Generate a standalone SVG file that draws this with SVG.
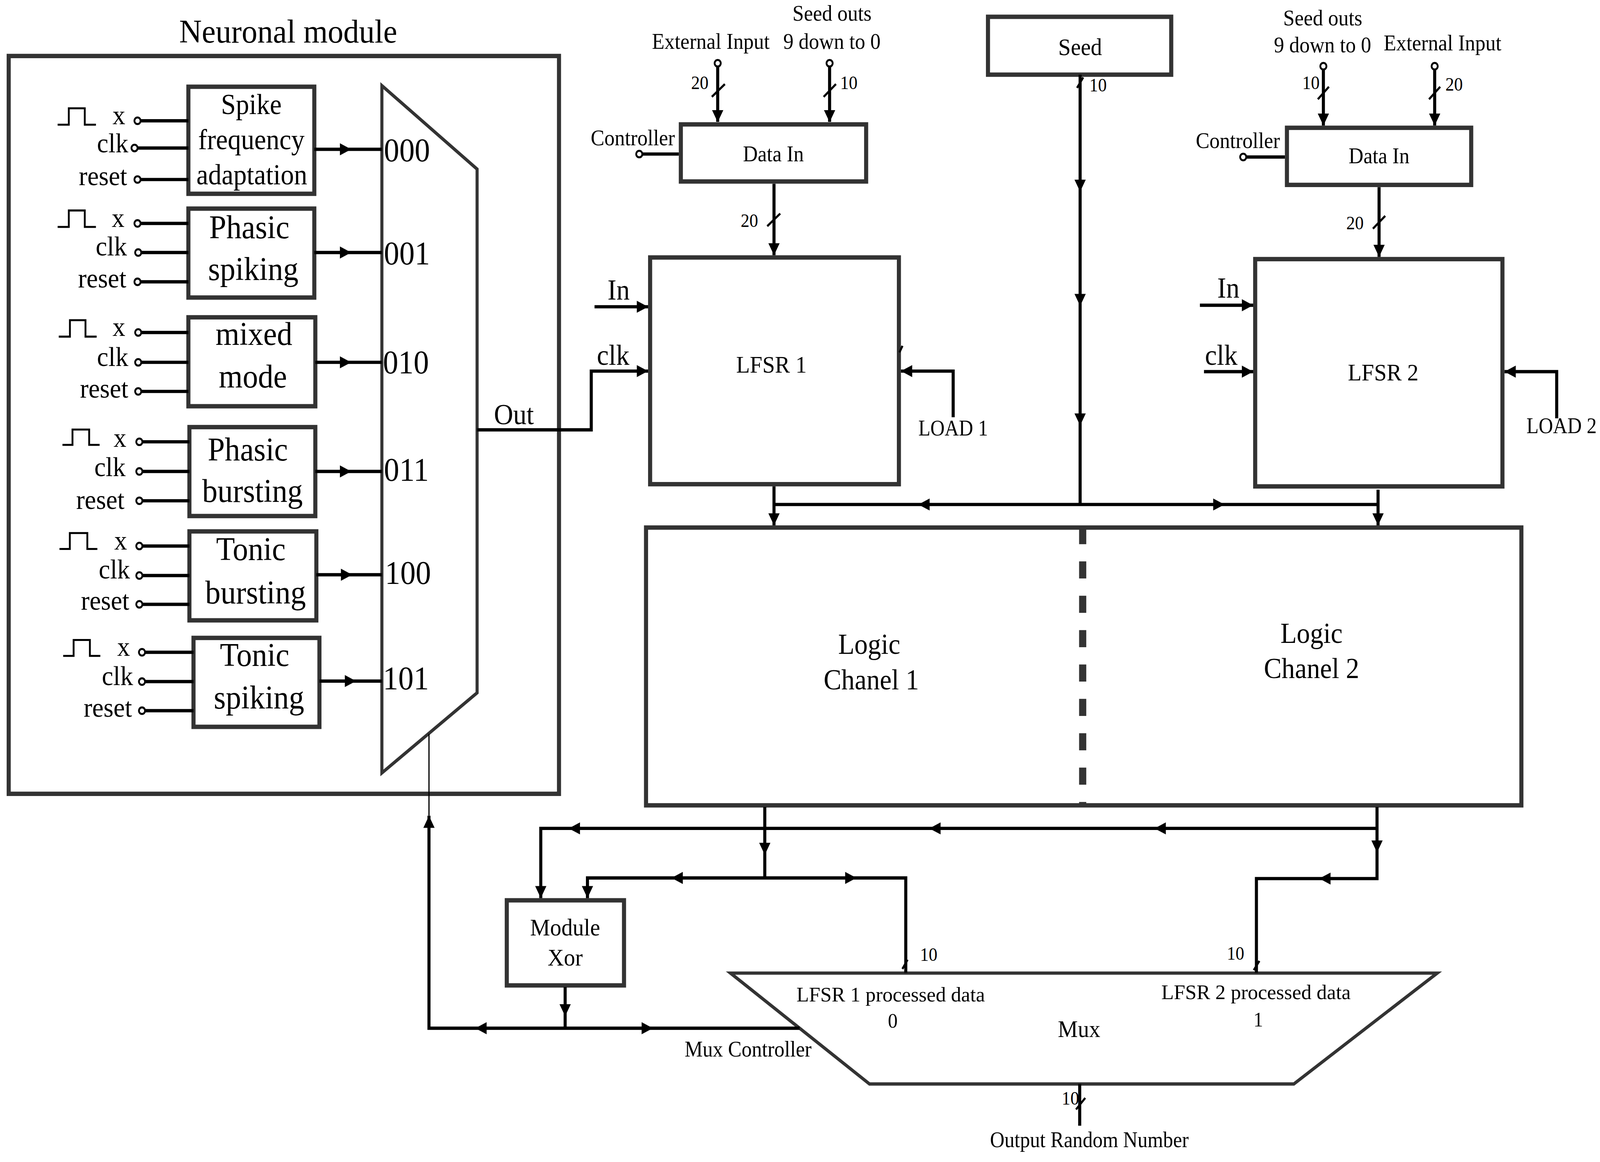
<svg xmlns="http://www.w3.org/2000/svg" width="4393" height="2975" viewBox="0 0 4393 2975" preserveAspectRatio="none">
<defs>
<style>
:root{width:100vw;height:100vh;display:block}
.box{fill:#fff;stroke:#333;stroke-width:4}
.frame{fill:none;stroke:#333;stroke-width:4}
.shape{fill:#fff;stroke:#333;stroke-width:3}
.w{fill:none;stroke:#000;stroke-width:3}
.wt{fill:none;stroke:#000;stroke-width:1.2}
.sl{fill:none;stroke:#000;stroke-width:2}
.pulse{fill:none;stroke:#000;stroke-width:1.8}
.pin{fill:#fff;stroke:#000;stroke-width:1.8}
.dash{fill:none;stroke:#333;stroke-width:7;stroke-dasharray:15.6 15.7}
text{font-family:'Liberation Serif','Times New Roman',serif;fill:#000}
.f30{font-size:30px}
.f26{font-size:26px}
.f25{font-size:25px}
.f22{font-size:22px}
.f20{font-size:20px}
.f19{font-size:19px}
.f17{font-size:17px}
.m{text-anchor:middle}
.e{text-anchor:end}
</style>
<path id="ah" d="M0,0 L-11,-5.5 L-11,5.5 Z" fill="#000"/>
</defs>
<rect width="4393" height="2975" fill="#fff"/>
<g transform="scale(2.811)">

<g id="neuronal-module">
<rect class="frame" x="8.5" y="51" width="537.5" height="672"/>
<text class="f30" x="175" y="38.7" textLength="213" lengthAdjust="spacingAndGlyphs">Neuronal module</text>
</g>

<g id="block-sfa">
<rect class="box" x="184" y="79" width="123" height="97.5"/>
<text class="f26 m" x="245.5" y="104">Spike</text>
<text class="f26 m" x="245.5" y="136">frequency</text>
<text class="f26 m" x="246" y="168">adaptation</text>
<polyline class="pulse" points="56.3,113.6 67.2,113.6 67.2,98.6 82.8,98.6 82.8,113.6 93.7,113.6"/>
<text class="f25 e" x="122.4" y="113">x</text>
<text class="f25 e" x="125.3" y="138.6">clk</text>
<text class="f25 e" x="124.2" y="168.5">reset</text>
<line class="w" x1="137" y1="110" x2="184" y2="110"/>
<line class="w" x1="134" y1="134.8" x2="184" y2="134.8"/>
<line class="w" x1="137" y1="163.5" x2="184" y2="163.5"/>
<circle class="pin" cx="134.3" cy="110" r="3"/>
<circle class="pin" cx="131.4" cy="134.8" r="3"/>
<circle class="pin" cx="134.3" cy="163.5" r="3"/>
</g>

<g id="block-phasic-spiking">
<rect class="box" x="184" y="190" width="123" height="81"/>
<text class="f30 m" x="243.5" y="217">Phasic</text>
<text class="f30 m" x="247.4" y="255">spiking</text>
<polyline class="pulse" points="56.3,206.7 67.2,206.7 67.2,191.7 82.8,191.7 82.8,206.7 93.7,206.7"/>
<text class="f25 e" x="121.6" y="206.7">x</text>
<text class="f25 e" x="124" y="232.7">clk</text>
<text class="f25 e" x="123.4" y="262">reset</text>
<line class="w" x1="137" y1="203.5" x2="184" y2="203.5"/>
<line class="w" x1="137.7" y1="230" x2="184" y2="230"/>
<line class="w" x1="137" y1="256.7" x2="184" y2="256.7"/>
<circle class="pin" cx="134.3" cy="203.5" r="3"/>
<circle class="pin" cx="135" cy="230" r="3"/>
<circle class="pin" cx="134.3" cy="256.7" r="3"/>
</g>

<g id="block-mixed-mode">
<rect class="box" x="184" y="289" width="124" height="81"/>
<text class="f30 m" x="248" y="314">mixed</text>
<text class="f30 m" x="247" y="353">mode</text>
<polyline class="pulse" points="57.4,306.6 68.3,306.6 68.3,291.6 83.5,291.6 83.5,306.6 94.4,306.6"/>
<text class="f25 e" x="122.4" y="306">x</text>
<text class="f25 e" x="125.3" y="333.3">clk</text>
<text class="f25 e" x="125.3" y="362">reset</text>
<line class="w" x1="137.7" y1="302.8" x2="184" y2="302.8"/>
<line class="w" x1="137.7" y1="330" x2="184" y2="330"/>
<line class="w" x1="137.7" y1="356.5" x2="184" y2="356.5"/>
<circle class="pin" cx="135" cy="302.8" r="3"/>
<circle class="pin" cx="135" cy="330" r="3"/>
<circle class="pin" cx="135" cy="356.5" r="3"/>
</g>

<g id="block-phasic-bursting">
<rect class="box" x="185" y="389" width="123" height="81"/>
<text class="f30 m" x="242" y="419.6">Phasic</text>
<text class="f30 m" x="246.6" y="457">bursting</text>
<polyline class="pulse" points="61,405.2 70.8,405.2 70.8,391.2 87.1,391.2 87.1,405.2 97.3,405.2"/>
<text class="f25 e" x="123.4" y="407">x</text>
<text class="f25 e" x="122.7" y="433.5">clk</text>
<text class="f25 e" x="121.6" y="463.6">reset</text>
<line class="w" x1="138.8" y1="402.4" x2="185" y2="402.4"/>
<line class="w" x1="138.8" y1="429.4" x2="185" y2="429.4"/>
<line class="w" x1="138.8" y1="456.1" x2="185" y2="456.1"/>
<circle class="pin" cx="136.1" cy="402.4" r="3"/>
<circle class="pin" cx="136.1" cy="429.4" r="3"/>
<circle class="pin" cx="136.1" cy="456.1" r="3"/>
</g>

<g id="block-tonic-bursting">
<rect class="box" x="185" y="484" width="124" height="81"/>
<text class="f30 m" x="245" y="510">Tonic</text>
<text class="f30 m" x="249.6" y="549.5">bursting</text>
<polyline class="pulse" points="58.1,500 68.2,500 68.2,485.5 85.3,485.5 85.3,500 95.1,500"/>
<text class="f25 e" x="124.1" y="500.5">x</text>
<text class="f25 e" x="127" y="526.7">clk</text>
<text class="f25 e" x="126.3" y="555.4">reset</text>
<line class="w" x1="138.8" y1="497.3" x2="185" y2="497.3"/>
<line class="w" x1="138.8" y1="524.2" x2="185" y2="524.2"/>
<line class="w" x1="138.8" y1="550.4" x2="185" y2="550.4"/>
<circle class="pin" cx="136.1" cy="497.3" r="3"/>
<circle class="pin" cx="136.1" cy="524.2" r="3"/>
<circle class="pin" cx="136.1" cy="550.4" r="3"/>
</g>

<g id="block-tonic-spiking">
<rect class="box" x="189" y="581" width="123" height="81"/>
<text class="f30 m" x="248.7" y="606.7">Tonic</text>
<text class="f30 m" x="253" y="645.5">spiking</text>
<polyline class="pulse" points="61.7,597.4 71.9,597.4 71.9,582.9 87.8,582.9 87.8,597.4 98,597.4"/>
<text class="f25 e" x="127" y="597.4">x</text>
<text class="f25 e" x="130" y="624">clk</text>
<text class="f25 e" x="128.9" y="652.8">reset</text>
<line class="w" x1="141.4" y1="594.1" x2="189" y2="594.1"/>
<line class="w" x1="141.4" y1="620.8" x2="189" y2="620.8"/>
<line class="w" x1="141.4" y1="647.3" x2="189" y2="647.3"/>
<circle class="pin" cx="138.7" cy="594.1" r="3"/>
<circle class="pin" cx="138.7" cy="620.8" r="3"/>
<circle class="pin" cx="138.7" cy="647.3" r="3"/>
</g>

<g id="neuron-mux">
<polygon class="shape" points="373,78 466,154 466,631 373,704"/>
<text class="f30" x="375" y="146.8">000</text>
<text class="f30" x="375" y="241">001</text>
<text class="f30" x="374" y="340">010</text>
<text class="f30" x="375" y="438">011</text>
<text class="f30" x="376" y="531.7">100</text>
<text class="f30" x="374" y="627.8">101</text>
<text class="f26" x="482.5" y="386.5">Out</text>
</g>

<g id="data-in-1">
<rect class="box" x="665" y="113.3" width="181" height="52"/>
<text class="f20 m" x="755.4" y="147">Data In</text>
<text class="f20" x="577" y="132.3">Controller</text>
<text class="f20 m" x="694.3" y="44.4">External Input</text>
<text class="f20 m" x="812.7" y="19">Seed outs</text>
<text class="f20 m" x="812.6" y="44.4">9 down to 0</text>
</g>

<g id="lfsr-1">
<rect class="box" x="635" y="234.5" width="243" height="206.5"/>
<text class="f22 m" x="753.5" y="339.4">LFSR 1</text>
<text class="f26" x="593.4" y="272.7">In</text>
<text class="f26" x="583" y="332.4">clk</text>
<text class="f20" x="897" y="396.6" textLength="68" lengthAdjust="spacingAndGlyphs">LOAD 1</text>
</g>

<g id="seed">
<rect class="box" x="965" y="15.3" width="179" height="52.7"/>
<text class="f22 m" x="1055" y="50">Seed</text>
</g>

<g id="data-in-2">
<rect class="box" x="1257" y="116.4" width="180" height="52"/>
<text class="f20 m" x="1347" y="148.6">Data In</text>
<text class="f20" x="1168" y="134.8">Controller</text>
<text class="f20 m" x="1292" y="23">Seed outs</text>
<text class="f20 m" x="1291.8" y="47.5">9 down to 0</text>
<text class="f20 m" x="1409" y="46">External Input</text>
</g>

<g id="lfsr-2">
<rect class="box" x="1226" y="236" width="241.5" height="207"/>
<text class="f22 m" x="1351" y="346.5">LFSR 2</text>
<text class="f26" x="1189" y="271">In</text>
<text class="f26" x="1177" y="332.3">clk</text>
<text class="f20" x="1491" y="394.5" textLength="68.5" lengthAdjust="spacingAndGlyphs">LOAD 2</text>
</g>

<g id="logic-channels">
<rect class="box" x="631" y="480.5" width="855" height="253"/>
<path class="dash" d="M1057.5,480 V732"/>
<text class="f26 m" x="849" y="595.5">Logic</text>
<text class="f26 m" x="851" y="628">Chanel 1</text>
<text class="f26 m" x="1281" y="585.5">Logic</text>
<text class="f26 m" x="1281" y="617.5">Chanel 2</text>
</g>

<g id="module-xor">
<rect class="box" x="495" y="820" width="114.5" height="77.5"/>
<text class="f22 m" x="552" y="852">Module</text>
<text class="f22 m" x="552" y="879.5">Xor</text>
</g>

<g id="output-mux">
<polygon class="shape" points="713.5,886.3 1403.8,886.3 1263.7,987.3 849.3,987.3"/>
<text class="f19" x="778" y="912" textLength="184" lengthAdjust="spacingAndGlyphs">LFSR 1 processed data</text>
<text class="f19 m" x="872" y="936">0</text>
<text class="f19" x="1134.3" y="910" textLength="185" lengthAdjust="spacingAndGlyphs">LFSR 2 processed data</text>
<text class="f19 m" x="1229" y="935">1</text>
<text class="f22 m" x="1054" y="944.4">Mux</text>
<text class="f20" x="668.7" y="962.3" textLength="124" lengthAdjust="spacingAndGlyphs">Mux Controller</text>
<text class="f20" x="967" y="1045" textLength="194" lengthAdjust="spacingAndGlyphs">Output Random Number</text>
</g>

<g id="connectors">
<line class="w" x1="307" y1="136" x2="373" y2="136"/>
<line class="w" x1="307" y1="230" x2="373" y2="230"/>
<line class="w" x1="308" y1="330" x2="373" y2="330"/>
<line class="w" x1="308" y1="429.4" x2="373" y2="429.4"/>
<line class="w" x1="309" y1="523.5" x2="373" y2="523.5"/>
<line class="w" x1="312" y1="620.3" x2="373" y2="620.3"/>
<use href="#ah" transform="translate(343,136)"/>
<use href="#ah" transform="translate(343,230)"/>
<use href="#ah" transform="translate(343,330)"/>
<use href="#ah" transform="translate(343,429.4)"/>
<use href="#ah" transform="translate(344,523.5)"/>
<use href="#ah" transform="translate(347.8,620.3)"/>

<path class="w" d="M466,391.5 H577.5 V338 H633"/>
<use href="#ah" transform="translate(633,338)"/>
<path class="w" d="M580.7,279.4 H633"/>
<use href="#ah" transform="translate(633,279.4)"/>
<path class="w" d="M931,380 V338 H880"/>
<use href="#ah" transform="translate(880,338) rotate(180)"/>
<line class="sl" x1="878.5" y1="321" x2="881.5" y2="315"/>

<path class="w" d="M701,61 V111"/>
<use href="#ah" transform="translate(701,111.3) rotate(90)"/>
<path class="w" d="M810.3,61 V111"/>
<use href="#ah" transform="translate(810.3,111.3) rotate(90)"/>
<path class="w" d="M627,140.3 H663"/>
<path class="w" d="M756,167.4 V232.5"/>
<use href="#ah" transform="translate(756,232.5) rotate(90)"/>
<line class="sl" x1="695.3" y1="88.2" x2="708" y2="76.6"/>
<line class="sl" x1="804.5" y1="88.2" x2="816.5" y2="76.6"/>
<line class="sl" x1="749.4" y1="206" x2="762.1" y2="194.5"/>
<circle class="pin" cx="701" cy="57.6" r="3"/>
<circle class="pin" cx="810.3" cy="57.6" r="3"/>
<circle class="pin" cx="624.4" cy="140.3" r="3"/>
<text class="f17" x="675" y="81.2">20</text>
<text class="f17" x="820.6" y="81.2">10</text>
<text class="f17" x="723.5" y="206.8">20</text>

<path class="w" d="M1292.6,63.5 V114.4"/>
<use href="#ah" transform="translate(1292.6,114.4) rotate(90)"/>
<path class="w" d="M1401.3,63.5 V114.4"/>
<use href="#ah" transform="translate(1401.3,114.4) rotate(90)"/>
<path class="w" d="M1217,143 H1255"/>
<path class="w" d="M1347,170.5 V234"/>
<use href="#ah" transform="translate(1347,234) rotate(90)"/>
<line class="sl" x1="1287.2" y1="90.4" x2="1298" y2="79"/>
<line class="sl" x1="1395.8" y1="90.4" x2="1406.7" y2="79"/>
<line class="sl" x1="1341" y1="208.3" x2="1353" y2="196.6"/>
<circle class="pin" cx="1292.6" cy="60.3" r="3"/>
<circle class="pin" cx="1401.3" cy="60.3" r="3"/>
<circle class="pin" cx="1214.3" cy="143" r="3"/>
<text class="f17" x="1272" y="81.2">10</text>
<text class="f17" x="1411.8" y="82.7">20</text>
<text class="f17" x="1315" y="208.9">20</text>

<path class="w" d="M1172,278 H1224"/>
<use href="#ah" transform="translate(1224,278)"/>
<path class="w" d="M1176,338.5 H1224"/>
<use href="#ah" transform="translate(1224,338.5)"/>
<path class="w" d="M1520.5,381 V338.5 H1469.5"/>
<use href="#ah" transform="translate(1469.5,338.5) rotate(180)"/>

<path class="w" d="M1055,68 V459.5"/>
<use href="#ah" transform="translate(1055,174.6) rotate(90)"/>
<use href="#ah" transform="translate(1055,278.7) rotate(90)"/>
<use href="#ah" transform="translate(1055,387.6) rotate(90)"/>
<line class="sl" x1="1052" y1="80" x2="1058" y2="70.5"/>
<text class="f17" x="1064" y="83.4">10</text>
<path class="w" d="M756,459.5 H1346"/>
<use href="#ah" transform="translate(897,459.5) rotate(180)"/>
<use href="#ah" transform="translate(1196,459.5)"/>
<path class="w" d="M756,443 V478.5"/>
<use href="#ah" transform="translate(756,478.5) rotate(90)"/>
<path class="w" d="M1346,446 V478.5"/>
<use href="#ah" transform="translate(1346,478.5) rotate(90)"/>

<path class="w" d="M747,735 V799.6"/>
<use href="#ah" transform="translate(747,778.6) rotate(90)"/>
<path class="w" d="M1345,735 V800.2 H1227.2 V886"/>
<use href="#ah" transform="translate(1345,776.5) rotate(90)"/>
<use href="#ah" transform="translate(1288.6,800.2) rotate(180)"/>
<path class="w" d="M1345,754.5 H528.2 V818"/>
<use href="#ah" transform="translate(528.2,818) rotate(90)"/>
<use href="#ah" transform="translate(555.5,754.5) rotate(180)"/>
<use href="#ah" transform="translate(907.7,754.5) rotate(180)"/>
<use href="#ah" transform="translate(1127.7,754.5) rotate(180)"/>
<path class="w" d="M884.7,886 V799.6 H573.8 V818"/>
<use href="#ah" transform="translate(573.8,818) rotate(90)"/>
<use href="#ah" transform="translate(655.9,799.6) rotate(180)"/>
<use href="#ah" transform="translate(836.5,799.6)"/>
<line class="sl" x1="881.4" y1="882.5" x2="886.5" y2="874.1"/>
<line class="sl" x1="1224.6" y1="883.6" x2="1230.1" y2="875.2"/>
<text class="f17" x="898.6" y="875.2">10</text>
<text class="f17" x="1198.3" y="874.1">10</text>

<path class="w" d="M552,899 V936.5"/>
<use href="#ah" transform="translate(552,925.6) rotate(90)"/>
<path class="w" d="M419,743 V936.5 H781"/>
<use href="#ah" transform="translate(464.3,936.5) rotate(180)"/>
<use href="#ah" transform="translate(637.7,936.5)"/>
<use href="#ah" transform="translate(419,743) rotate(-90)"/>
<path class="wt" d="M419,668.4 V743"/>

<path class="w" d="M1054.6,987.3 V1025.3"/>
<line class="sl" x1="1051" y1="1010.5" x2="1060" y2="1000"/>
<text class="f17" x="1037" y="1006">10</text>
</g>

</g>
</svg>
